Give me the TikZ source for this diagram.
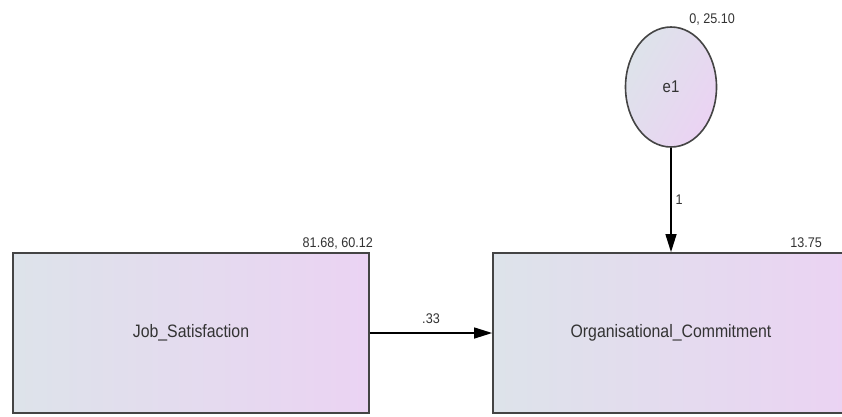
\documentclass[tikz,border=0pt]{standalone}
\usepackage{fontspec}
\setmainfont{Liberation Sans}
\usetikzlibrary{arrows.meta,shapes.geometric}
\definecolor{boxL}{HTML}{DDE3EA}
\definecolor{boxR}{HTML}{EBD3F3}
\definecolor{lineC}{HTML}{444444}
\definecolor{txtC}{HTML}{333333}
\newcommand{\narrowtxt}[2]{\scalebox{#1}[1]{#2}}
\begin{document}
\begin{tikzpicture}[x=1pt,y=-1pt,
  obsvar/.style={draw=lineC, line width=1.8pt, left color=boxL, right color=boxR,
    minimum width=356pt, minimum height=160pt, inner sep=0pt,
    font=\fontsize{18}{20}\selectfont, text=txtC},
  errvar/.style={ellipse, draw=lineC, line width=1.6pt, left color=boxL, right color=boxR, shading angle=60,
    minimum width=91pt, minimum height=120pt, inner sep=0pt,
    font=\fontsize{17}{19}\selectfont, text=txtC},
  lab/.style={font=\fontsize{14}{16}\selectfont, text=txtC, inner sep=0pt},
  arr/.style={draw=black, line width=1.4pt, -{Triangle[length=18pt,width=11pt]}}
]
\useasboundingbox (0,0) rectangle (842,416);
\fill[white] (0,0) rectangle (842,416);
\node[obsvar] (js) at (191,333) {\narrowtxt{0.88}{Job\_Satisfaction}};
\node[obsvar] (oc) at (671,333) {\narrowtxt{0.88}{Organisational\_Commitment}};
\node[errvar] (e1) at (671,87) {\narrowtxt{0.88}{e1}};
\node[lab, anchor=base east] (ljs) at (373,247) {\narrowtxt{0.9}{81.68, 60.12}};
\node[lab, anchor=base east] (loc) at (822,247) {\narrowtxt{0.9}{13.75}};
\node[lab, anchor=base east] (le1) at (735,23) {\narrowtxt{0.9}{0, 25.10}};
\draw[arr] (js) -- node[lab, above=9pt] (w1) {\narrowtxt{0.9}{.33}} (oc);
\draw[arr] (e1) -- node[lab, right=4pt] (w2) {\narrowtxt{0.9}{1}} (oc);
\end{tikzpicture}
\end{document}
